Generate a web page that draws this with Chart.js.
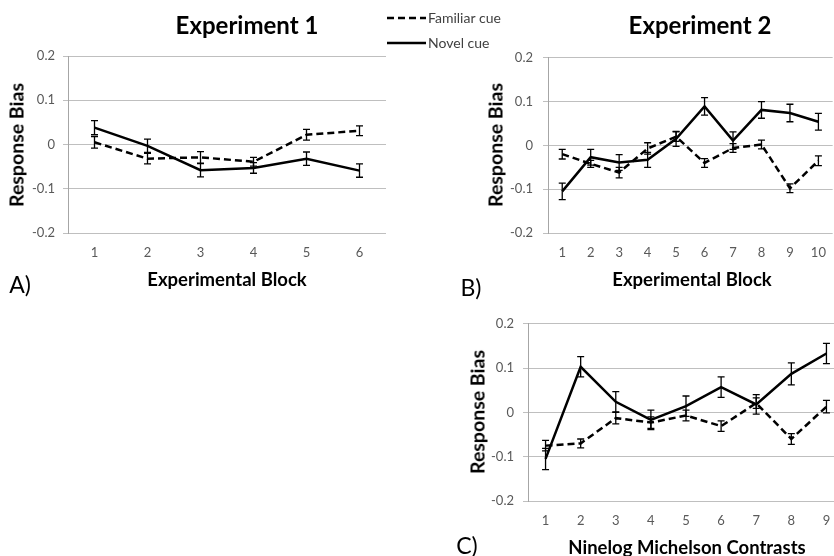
<!DOCTYPE html>
<html>
<head>
<meta charset="utf-8">
<script src="https://cdn.jsdelivr.net/npm/chart.js@4.4.1/dist/chart.umd.min.js"></script>
<style>
  body { margin: 0; width: 834px; height: 556px; overflow: hidden; background: #fff; position: relative; font-family: Lato, "Open Sans", sans-serif; }
  canvas { position: absolute; }
  .lbl { position: absolute; transform: translate(-50%, -50%); white-space: nowrap; color: #000; }
  .title { font-weight: bold; font-size: 24px; }
  .axt { font-weight: bold; font-size: 18.5px; }
  .rot { transform: translate(-50%, -50%) rotate(-90deg); font-size: 19.5px; }
  .tag { font-size: 23px; }
</style>
</head>
<body>
<canvas id="chartA" width="520" height="273" style="left:0;top:0"></canvas>
<canvas id="chartB" width="358" height="233" style="left:480px;top:40px"></canvas>
<canvas id="chartC" width="385" height="234" style="left:460px;top:307px"></canvas>

<div class="lbl title" style="left:247px;top:24px">Experiment 1</div>
<div class="lbl title" style="left:700px;top:24px">Experiment 2</div>
<div class="lbl axt rot" style="left:16px;top:145px">Response Bias</div>
<div class="lbl axt rot" style="left:495px;top:145px">Response Bias</div>
<div class="lbl axt rot" style="left:477px;top:412px">Response Bias</div>
<div class="lbl axt" style="left:227px;top:279px">Experimental Block</div>
<div class="lbl axt" style="left:692px;top:279px">Experimental Block</div>
<div class="lbl axt" style="left:687px;top:547px">Ninelog Michelson Contrasts</div>
<div class="lbl tag" style="left:20px;top:284px">A)</div>
<div class="lbl tag" style="left:471px;top:287px">B)</div>
<div class="lbl tag" style="left:467px;top:545px">C)</div>

<script>
// Experiment 1
const blocksA = ['1', '2', '3', '4', '5', '6'];
const familiarA = [0.005, -0.032, -0.029, -0.039, 0.022, 0.031];
const familiarErrA = [0.013, 0.012, 0.013, 0.010, 0.012, 0.011];
const novelA = [0.038, -0.003, -0.058, -0.053, -0.032, -0.059];
const novelErrA = [0.016, 0.015, 0.015, 0.012, 0.015, 0.015];

// Experiment 2
const blocksB = ['1', '2', '3', '4', '5', '6', '7', '8', '9', '10'];
const familiarB = [-0.02, -0.042, -0.062, -0.007, 0.02, -0.04, -0.006, 0.002, -0.098, -0.035];
const familiarErrB = [0.011, 0.008, 0.012, 0.013, 0.011, 0.010, 0.010, 0.010, 0.010, 0.011];
const novelB = [-0.105, -0.027, -0.039, -0.033, 0.015, 0.089, 0.011, 0.081, 0.074, 0.054];
const novelErrB = [0.019, 0.018, 0.018, 0.017, 0.017, 0.020, 0.020, 0.019, 0.020, 0.019];

// Ninelog Michelson contrasts
const contrastsC = ['1', '2', '3', '4', '5', '6', '7', '8', '9'];
const familiarC = [-0.075, -0.07, -0.013, -0.023, -0.007, -0.031, 0.021, -0.06, 0.013];
const familiarErrC = [0.012, 0.010, 0.013, 0.013, 0.012, 0.012, 0.012, 0.012, 0.014];
const novelC = [-0.105, 0.103, 0.024, -0.017, 0.014, 0.057, 0.018, 0.087, 0.133];
const novelErrC = [0.024, 0.023, 0.023, 0.022, 0.023, 0.023, 0.022, 0.025, 0.023];

const yTicks = [-0.2, -0.1, 0, 0.1, 0.2];
const seriesNames = ['Familiar cue', 'Novel cue'];

const tickFont = { family: 'Lato', size: 13 };

// error bars drawn from the dataset's errors array
const errorBars = {
    id: 'errorBars',
    afterDatasetsDraw(chart) {
        const ctx = chart.ctx;
        const x = chart.scales.x, y = chart.scales.y;
        chart.data.datasets.forEach(ds => {
            ctx.save();
            ctx.strokeStyle = '#000';
            ctx.lineWidth = 1.3;
            ds.data.forEach((v, i) => {
                const e = ds.errors[i];
                const px = x.getPixelForValue(i);
                const top = y.getPixelForValue(v + e);
                const bot = y.getPixelForValue(v - e);
                ctx.beginPath();
                ctx.moveTo(px, top); ctx.lineTo(px, bot);
                ctx.moveTo(px - 3.5, top); ctx.lineTo(px + 3.5, top);
                ctx.moveTo(px - 3.5, bot); ctx.lineTo(px + 3.5, bot);
                ctx.stroke();
            });
            ctx.restore();
        });
    }
};

// legend sits to the right of Experiment 1 title
const sideLegend = {
    id: 'sideLegend',
    afterDraw(chart) {
        const ctx = chart.ctx;
        const rows = [18, 43];
        chart.data.datasets.forEach((ds, i) => {
            ctx.save();
            ctx.strokeStyle = '#000';
            ctx.lineWidth = 2.5;
            ctx.setLineDash(ds.borderDash || []);
            ctx.beginPath();
            ctx.moveTo(387, rows[i]);
            ctx.lineTo(426, rows[i]);
            ctx.stroke();
            ctx.setLineDash([]);
            ctx.fillStyle = '#404040';
            ctx.font = '14px Lato';
            ctx.textBaseline = 'middle';
            ctx.fillText(ds.label, 428, rows[i]);
            ctx.restore();
        });
    }
};

function drawPanel(canvasId, labels, familiar, familiarErr, novel, novelErr, opts) {
    const ctx = document.getElementById(canvasId).getContext('2d');
    const plugins = [errorBars];
    if (opts.legend) plugins.push(sideLegend);

    return new Chart(ctx, {
        type: 'line',
        data: {
            labels: labels,
            datasets: [{
                label: seriesNames[0],
                data: familiar,
                errors: familiarErr,
                borderColor: '#000',
                borderWidth: 2.5,
                borderDash: [7, 4],
                pointRadius: 0,
                fill: false
            }, {
                label: seriesNames[1],
                data: novel,
                errors: novelErr,
                borderColor: '#000',
                borderWidth: 2.5,
                pointRadius: 0,
                fill: false
            }]
        },
        options: {
            responsive: false,
            animation: false,
            devicePixelRatio: 1,
            layout: { padding: { top: opts.top, right: opts.right, left: 0, bottom: 0 } },
            plugins: {
                legend: { display: false },
                tooltip: { enabled: false }
            },
            scales: {
                x: {
                    type: 'category',
                    offset: true,
                    grid: { display: false, drawTicks: false },
                    border: { display: false },
                    ticks: { color: '#595959', font: tickFont, padding: opts.xPad, maxRotation: 0, autoSkip: false },
                    afterFit(s) { s.height = 40; }
                },
                y: {
                    min: -0.2,
                    max: 0.2,
                    afterBuildTicks(s) { s.ticks = yTicks.map(v => ({ value: v })); },
                    grid: { color: '#bfbfbf', tickLength: 5 },
                    border: { display: true, color: '#a6a6a6' },
                    ticks: { color: '#595959', font: tickFont, padding: opts.yPad, callback: v => String(v) },
                    afterFit(s) { s.width = 68; }
                }
            }
        },
        plugins: plugins
    });
}

drawPanel('chartA', blocksA, familiarA, familiarErrA, novelA, novelErrA, { top: 56, right: 134, xPad: 12, yPad: 8, legend: true });
drawPanel('chartB', blocksB, familiarB, familiarErrB, novelB, novelErrB, { top: 16, right: 1, xPad: 12, yPad: 10 });
drawPanel('chartC', contrastsC, familiarC, familiarErrC, novelC, novelErrC, { top: 16, right: 1, xPad: 12, yPad: 9 });
</script>
</body>
</html>
